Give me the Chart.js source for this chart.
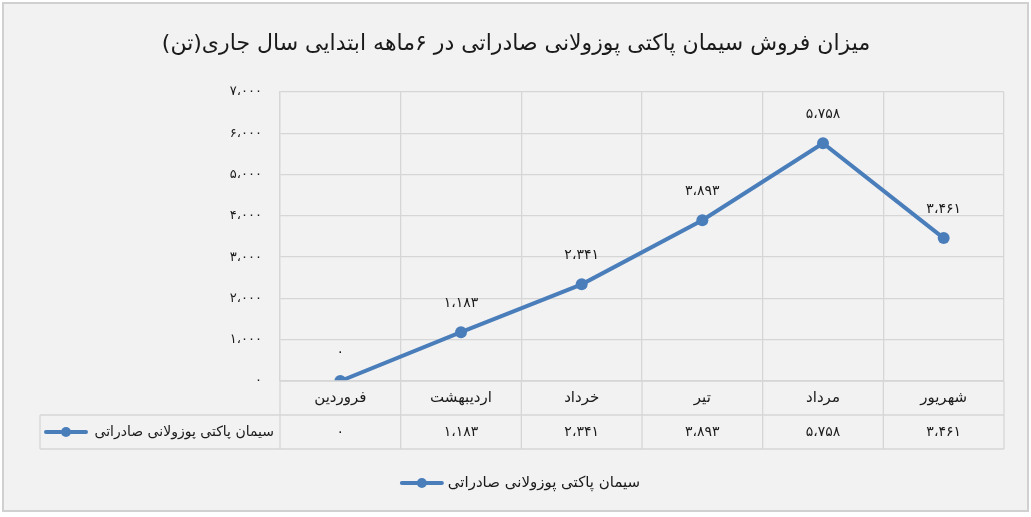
<!DOCTYPE html>
<html>
<head>
<meta charset="utf-8">
<script src="https://cdn.jsdelivr.net/npm/chart.js@4"></script>
<style>
    body { margin: 0; background: #ffffff; }
    #wrap { position: relative; width: 1031px; height: 517px; }
</style>
</head>
<body>
<div id="wrap"><canvas id="myChart"></canvas></div>
<script>
// داده‌ها
const titleText = 'میزان فروش سیمان پاکتی پوزولانی صادراتی در ۶ماهه ابتدایی سال جاری(تن)';
const months = ['فروردین', 'اردیبهشت', 'خرداد', 'تیر', 'مرداد', 'شهریور'];
const seriesName = 'سیمان پاکتی پوزولانی صادراتی';
const sales = [0, 1183, 2341, 3893, 5758, 3461];
const yMax = 7000;
const yStep = 1000;

const lineColor = '#4a7ebb';
const gridColor = '#d6d6d6';
const textColor = '#1a1a1a';
const fontFamily = "'DejaVu Sans', sans-serif";

// تبدیل عدد به ارقام فارسی
function toFa(n) {
    const fa = '۰۱۲۳۴۵۶۷۸۹';
    return n.toLocaleString('en-US').replace(/\d/g, d => fa[d]).replace(/,/g, '،');
}

function drawKey(ctx, x, y) {
    ctx.save();
    ctx.strokeStyle = lineColor;
    ctx.lineWidth = 4;
    ctx.lineCap = 'round';
    ctx.beginPath();
    ctx.moveTo(x, y);
    ctx.lineTo(x + 40, y);
    ctx.stroke();
    ctx.fillStyle = lineColor;
    ctx.beginPath();
    ctx.arc(x + 20, y, 5, 0, Math.PI * 2);
    ctx.fill();
    ctx.restore();
}

// پلاگین برای عنوان، برچسب داده، جدول و راهنما
const extras = {
    id: 'extras',
    beforeDraw(chart) {
        const ctx = chart.ctx;
        ctx.save();
        ctx.fillStyle = '#f2f2f2';
        ctx.fillRect(3, 3, 1025, 508);
        ctx.strokeStyle = '#d0d0d0';
        ctx.lineWidth = 2;
        ctx.strokeRect(3, 3, 1025, 508);
        ctx.restore();
    },
    afterDatasetsDraw(chart) {
        const ctx = chart.ctx;
        const area = chart.chartArea;
        const xs = chart.scales.x;
        const meta = chart.getDatasetMeta(0);
        ctx.save();

        // عنوان
        ctx.fillStyle = textColor;
        ctx.font = '22px ' + fontFamily;
        ctx.textAlign = 'center';
        ctx.textBaseline = 'middle';
        ctx.fillText(titleText, 516, 44);

        // برچسب مقادیر
        ctx.font = '14px ' + fontFamily;
        meta.data.forEach((pt, i) => {
            ctx.fillText(toFa(sales[i]), pt.x, pt.y - 29);
        });

        // جدول داده
        const rowH = 34;
        const y1 = area.bottom;
        const y2 = y1 + rowH;
        const y3 = y2 + rowH;
        const keyLeft = 40;
        ctx.strokeStyle = gridColor;
        ctx.lineWidth = 1.3;
        const half = (xs.getPixelForValue(1) - xs.getPixelForValue(0)) / 2;
        const edges = [];
        for (let i = 0; i < months.length; i++) {
            edges.push(xs.getPixelForValue(i) - half);
        }
        edges.push(xs.getPixelForValue(months.length - 1) + half);
        ctx.beginPath();
        edges.forEach(x => {
            ctx.moveTo(x, y1);
            ctx.lineTo(x, y3);
        });
        ctx.moveTo(keyLeft, y2);
        ctx.lineTo(keyLeft, y3);
        ctx.moveTo(keyLeft, y2);
        ctx.lineTo(area.right, y2);
        ctx.moveTo(keyLeft, y3);
        ctx.lineTo(area.right, y3);
        ctx.moveTo(area.left, y1);
        ctx.lineTo(area.right, y1);
        ctx.stroke();

        ctx.fillStyle = textColor;
        months.forEach((m, i) => {
            const cx = xs.getPixelForValue(i);
            ctx.font = '15px ' + fontFamily;
            ctx.fillText(m, cx, y1 + rowH / 2);
            ctx.font = '14px ' + fontFamily;
            ctx.fillText(toFa(sales[i]), cx, y2 + rowH / 2);
        });

        // ستون نام سری در جدول
        ctx.font = '14px ' + fontFamily;
        ctx.textAlign = 'right';
        ctx.fillText(seriesName, area.left - 6, y2 + rowH / 2);
        drawKey(ctx, keyLeft + 6, y2 + rowH / 2);

        // راهنما
        ctx.font = '15px ' + fontFamily;
        ctx.textAlign = 'left';
        const nameW = ctx.measureText(seriesName).width;
        const legW = 40 + 6 + nameW;
        const lx = 516 - legW / 2 + 5;
        drawKey(ctx, lx, 483);
        ctx.fillText(seriesName, lx + 46, 483);
        ctx.restore();
    }
};

const ctx = document.getElementById('myChart').getContext('2d');
window.myChart = new Chart(ctx, {
    type: 'line',
    data: {
        labels: months,
        datasets: [{
            label: seriesName,
            data: sales,
            borderColor: lineColor,
            backgroundColor: lineColor,
            borderWidth: 4,
            pointRadius: 6,
            pointHoverRadius: 6,
            pointBackgroundColor: lineColor,
            pointBorderWidth: 0,
            tension: 0
        }]
    },
    options: {
        responsive: true,
        maintainAspectRatio: false,
        animation: false,
        layout: {
            padding: { left: 0, right: 27, top: 92, bottom: 136 }
        },
        plugins: {
            legend: { display: false },
            title: { display: false },
            tooltip: { enabled: false }
        },
        scales: {
            x: {
                type: 'category',
                offset: true,
                grid: {
                    offset: true,
                    color: gridColor,
                    lineWidth: 1.3,
                    drawTicks: false
                },
                border: { display: false },
                ticks: { display: false },
                afterFit: scale => { scale.height = 0; }
            },
            y: {
                min: 0,
                max: yMax,
                grid: {
                    color: gridColor,
                    lineWidth: 1.3,
                    drawTicks: false
                },
                border: { color: gridColor, width: 1.3 },
                ticks: {
                    stepSize: yStep,
                    padding: 18,
                    color: textColor,
                    font: { family: fontFamily, size: 13 },
                    callback: v => toFa(v)
                },
                afterFit: scale => { scale.width = 280; }
            }
        }
    },
    plugins: [extras]
});
</script>
</body>
</html>
